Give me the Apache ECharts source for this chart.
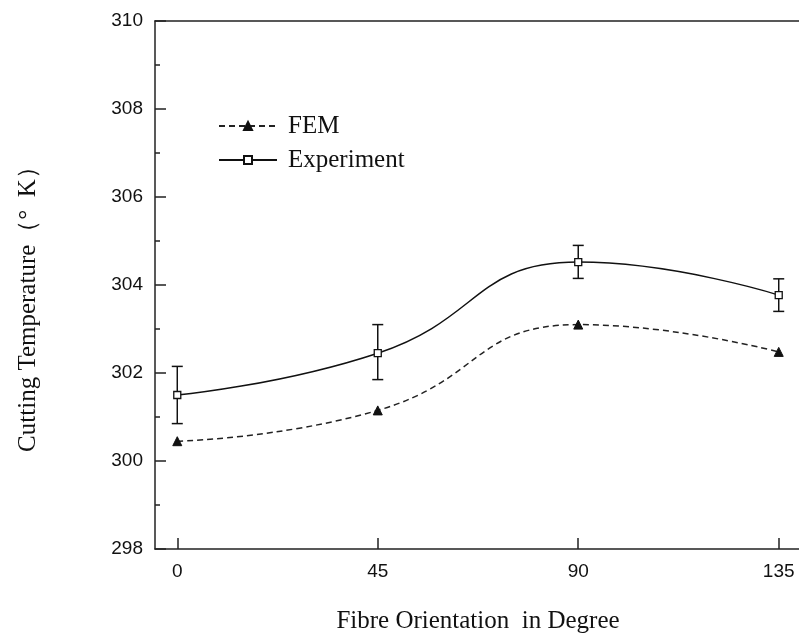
<!DOCTYPE html>
<html>
<head>
<meta charset="utf-8">
<script src="https://cdn.jsdelivr.net/npm/echarts@6/dist/echarts.min.js"></script>
<style>html,body{margin:0;padding:0;background:#fff}#c{width:799px;height:635px}</style>
</head>
<body>
<div id="c"></div>
<script>
const angles = [0, 45, 90, 135];
const femValues = [300.45, 301.15, 303.1, 302.48];
const expValues = [301.5, 302.45, 304.52, 303.77];
const expLow = [300.85, 301.85, 304.15, 303.4];
const expHigh = [302.15, 303.1, 304.9, 304.14];
const xTickLabels = [0, 45, 90, 135];

const chart = echarts.init(document.getElementById('c'), null, {renderer: 'canvas'});
const sans = '"Liberation Sans", Arial, sans-serif';
const serif = '"Liberation Serif", "Times New Roman", serif';
const axisColor = '#222';

const option = {
  animation: false,
  backgroundColor: '#fff',
  grid: {left: 155, top: 21, width: 646, height: 528, containLabel: false, outerBoundsMode: 'none'},
  legend: {
    orient: 'vertical', left: 213, top: 108, itemWidth: 58, itemHeight: 10, itemGap: 8,
    data: ['FEM', 'Experiment'],
    textStyle: {fontFamily: serif, fontSize: 25, color: '#111', lineHeight: 26, padding: [0,0,0,6]}
  },
  xAxis: [{
    type: 'value', min: -5, max: 140, position: 'bottom',
    name: 'Fibre Orientation  in Degree', nameLocation: 'middle', nameGap: 60,
    nameTextStyle: {fontFamily: serif, fontSize: 25, color: '#111'},
    axisLine: {show: true, onZero: false, lineStyle: {color: axisColor, width: 1.5}},
    axisTick: {show: true, inside: true, length: 11, customValues: xTickLabels, lineStyle: {color: axisColor, width: 1.5}},
    axisLabel: {customValues: xTickLabels, fontFamily: sans, fontSize: 19, color: '#111', margin: 13},
    splitLine: {show: false}
  }, {
    type: 'value', min: -5, max: 140, position: 'top',
    axisLine: {show: true, onZero: false, lineStyle: {color: axisColor, width: 1.5}},
    axisTick: {show: false}, axisLabel: {show: false}, splitLine: {show: false}
  }],
  yAxis: {
    type: 'value', min: 298, max: 310, interval: 2,
    axisLine: {show: true, onZero: false, lineStyle: {color: axisColor, width: 1.5}},
    axisTick: {show: true, inside: true, length: 11, lineStyle: {color: axisColor, width: 1.5}},
    minorTick: {show: true, splitNumber: 2, length: 5, lineStyle: {color: axisColor, width: 1.5}},
    axisLabel: {fontFamily: sans, fontSize: 19, color: '#111', margin: 12},
    splitLine: {show: false}
  },
  graphic: [{
    type: 'text', x: 28, y: 303, rotation: Math.PI / 2,
    style: {text: 'Cutting Temperature（°  K）', font: '25px ' + serif, fill: '#111', align: 'center', verticalAlign: 'middle'}
  }],
  series: [
    {
      type: 'custom', name: 'errbar', z: 1, silent: true,
      data: angles.map((a, i) => [a, expLow[i], expHigh[i]]),
      encode: {x: 0, y: [1, 2]},
      renderItem: function (params, api) {
        const lo = api.coord([api.value(0), api.value(1)]);
        const hi = api.coord([api.value(0), api.value(2)]);
        const w = 5.5;
        const st = {stroke: '#111', lineWidth: 1.5};
        return {type: 'group', children: [
          {type: 'line', shape: {x1: lo[0], y1: lo[1], x2: hi[0], y2: hi[1]}, style: st},
          {type: 'line', shape: {x1: lo[0] - w, y1: lo[1], x2: lo[0] + w, y2: lo[1]}, style: st},
          {type: 'line', shape: {x1: hi[0] - w, y1: hi[1], x2: hi[0] + w, y2: hi[1]}, style: st}
        ]};
      }
    },
    {
      type: 'line', name: 'FEM', z: 3, smooth: 0.5,
      data: angles.map((a, i) => [a, femValues[i]]),
      symbol: 'triangle', symbolSize: 9,
      itemStyle: {color: '#111', borderColor: '#111', borderWidth: 1},
      lineStyle: {color: '#222', width: 1.5, type: [6, 4]}
    },
    {
      type: 'line', name: 'Experiment', z: 4, smooth: 0.5,
      data: angles.map((a, i) => [a, expValues[i]]),
      symbol: 'rect', symbolSize: 7, showAllSymbol: true,
      itemStyle: {color: '#fff', borderColor: '#111', borderWidth: 1.3},
      lineStyle: {color: '#111', width: 1.5, type: 'solid'}
    }
  ]
};
chart.setOption(option);
</script>
</body>
</html>
